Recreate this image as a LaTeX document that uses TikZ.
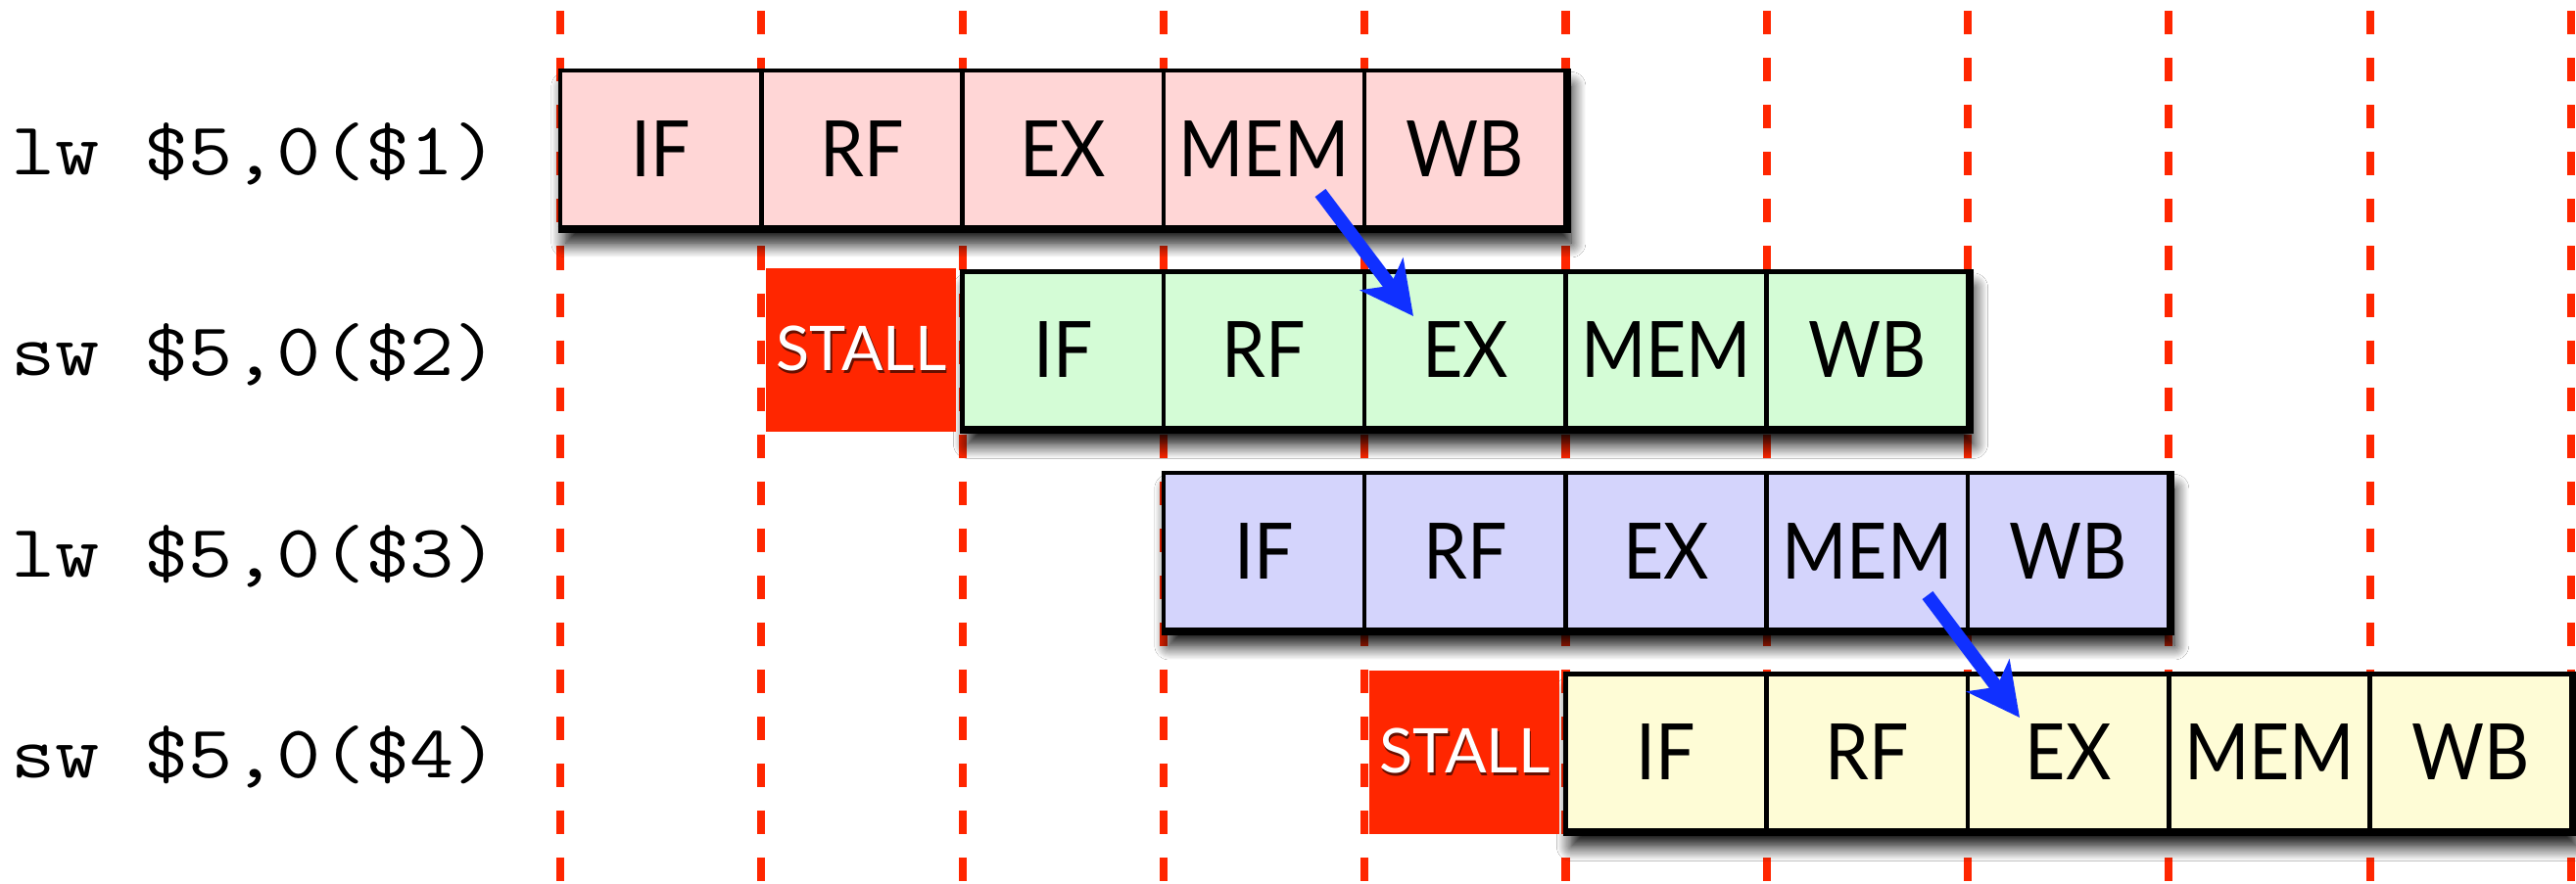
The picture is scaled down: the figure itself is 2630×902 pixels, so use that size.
\documentclass[tikz,border=0pt]{standalone}
\usepackage{fontspec}
\newfontfamily\stagefont[FakeStretch=0.9]{Lato}
\newfontfamily\stallfont{Lato}
\newfontfamily\codefont[FakeStretch=1.15]{Latin Modern Mono}
\usetikzlibrary{arrows.meta,shadows.blur}
\definecolor{pinkc}{RGB}{255,214,214}
\definecolor{greenc}{RGB}{212,252,214}
\definecolor{bluec}{RGB}{212,212,252}
\definecolor{yellowc}{RGB}{254,252,214}
\definecolor{stallred}{RGB}{255,38,0}
\definecolor{arrowblue}{RGB}{16,48,255}
\tikzset{
  guide/.style={draw=stallred, line width=2.3pt, dash pattern=on 6.83pt off 6.83pt},
  cell/.style={draw=black, line width=1.3pt, minimum width=2.053cm, minimum height=1.6cm,
    inner sep=0pt, font=\stagefont\fontsize{22.6pt}{24pt}\selectfont},
  stripshadow/.style={fill=white, blur shadow={shadow xshift=1.6pt, shadow yshift=-4.6pt,
    shadow blur radius=4.2pt, shadow blur steps=14, shadow opacity=100}},
  stallbox/.style={fill=stallred, draw=none, minimum width=1.94cm, minimum height=1.66cm,
    inner sep=0pt, text=white, font=\stallfont\fontsize{17.9pt}{19pt}\selectfont},
  code/.style={anchor=base west, inner sep=0pt, font=\codefont\fontsize{21.7pt}{24pt}\selectfont},
  fwd/.style={draw=arrowblue, line width=3.85pt,
    -{Stealth[length=15.2pt, width=15.4pt, inset=4.1pt]}},
}
\newcommand{\pipeRow}[4]{% #1 row index, #2 start column, #3 colour, #4 row name
  \pgfmathsetmacro{\pipeYT}{72+205.5*#1}
  \pgfmathsetmacro{\pipeYB}{\pipeYT+160}
  \pgfmathsetmacro{\pipeXL}{572+205.3*#2}
  \pgfmathsetmacro{\pipeXR}{\pipeXL+5*205.3}
  \path[stripshadow] (\pipeXL,\pipeYT) rectangle (\pipeXR,\pipeYB);
  \foreach \s [count=\k from 0] in {IF,RF,EX,MEM,WB} {
    \node[cell, fill=#3] (#4-\s) at ({\pipeXL+205.3*(\k+0.5)}, {\pipeYT+80}) {\s};
  }
  \draw[line width=2pt] (#4-IF.south west) -- (#4-WB.south east) -- (#4-WB.north east);
}
\newcommand{\stallText}{\makebox[0pt][l]{\hspace{0.5pt}\raisebox{-1pt}{\color{stallred!40!black}STALL}}STALL}
\begin{document}
\begin{tikzpicture}[x=0.01cm, y=-0.01cm]
\useasboundingbox[fill=white] (0,0) rectangle (2630,902);
% time grid
\foreach \i in {0,...,10} {
  \draw[guide] ({572+205.3*\i}, 11.3) -- ({572+205.3*\i}, 902);
}
% instruction labels
\node[code] (lab1) at (11,178) {lw \$5,0(\$1)};
\node[code] (lab2) at (11,383.5) {sw \$5,0(\$2)};
\node[code] (lab3) at (11,589) {lw \$5,0(\$3)};
\node[code] (lab4) at (11,794.5) {sw \$5,0(\$4)};
% pipelines
\pipeRow{0}{0}{pinkc}{r1}
\pipeRow{1}{2}{greenc}{r2}
\pipeRow{2}{3}{bluec}{r3}
\pipeRow{3}{5}{yellowc}{r4}
% stalls
\node[stallbox] (stall2) at (879.3,357.5) {\stallText};
\node[stallbox] (stall4) at (1495.2,768.5) {\stallText};
% forwarding arrows
\coordinate (a1s) at (1348,197);
\coordinate (a1e) at (1443,323);
\coordinate (a2s) at (1968,608);
\coordinate (a2e) at (2062,733);
\draw[fwd] (a1s) -- (a1e);
\draw[fwd] (a2s) -- (a2e);
\end{tikzpicture}
\end{document}
